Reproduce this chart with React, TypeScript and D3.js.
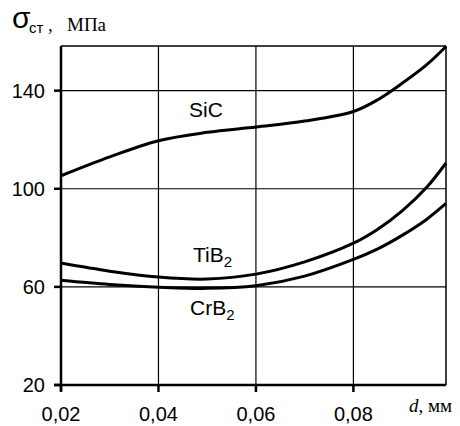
import React from "react";
import * as d3 from "d3";

const W = 460;
const H = 426;
const left = 61;
const right = 446;
const top = 46;
const bottom = 385;

const xTicks = [0.02, 0.04, 0.06, 0.08];
const yTicks = [20, 60, 100, 140];
const dValues = [0.02, 0.03, 0.04, 0.05, 0.06, 0.07, 0.08, 0.085, 0.09, 0.095, 0.099];
const sicValues = [105.3, 113, 119.6, 123, 125.2, 127.6, 131.5, 136.3, 143, 150.5, 158];
const tib2Values = [69.7, 66.4, 64, 63.2, 65.2, 70.2, 77.8, 83.5, 91, 100.5, 110.5];
const crb2Values = [62.7, 61, 59.9, 59.4, 60.5, 64.4, 71.2, 75.5, 81, 87.5, 94];

const series = [
  { name: "SiC", values: sicValues },
  { name: "TiB2", values: tib2Values },
  { name: "CrB2", values: crb2Values },
];

const App = () => {
  const x = d3.scaleLinear().domain([0.02, 0.099]).range([left, right]);
  const y = d3.scaleLinear().domain([20, 158.2]).range([bottom, top]);
  const line = d3
    .line<number>()
    .x((_, i) => x(dValues[i]))
    .y((v) => y(v))
    .curve(d3.curveCatmullRom.alpha(0.5));
  const fmt = (v: number) => v.toFixed(2).replace(".", ",");

  return (
    <svg
      width={W}
      height={H}
      style={{ position: "absolute", left: 0, top: 0, background: "#fff" }}
    >
      {/* grid */}
      {xTicks.slice(1).map((t) => (
        <line key={t} x1={x(t)} x2={x(t)} y1={top} y2={bottom} stroke="#000" strokeWidth={1.2} />
      ))}
      {yTicks.slice(1).map((t) => (
        <line key={t} x1={left} x2={right} y1={y(t)} y2={y(t)} stroke="#000" strokeWidth={1.2} />
      ))}
      <line x1={left} x2={right} y1={top} y2={top} stroke="#000" strokeWidth={1.5} />
      <line x1={right} x2={right} y1={top} y2={bottom} stroke="#000" strokeWidth={1.5} />

      {/* axes */}
      <line x1={left} x2={left} y1={top} y2={bottom + 6} stroke="#000" strokeWidth={2.5} />
      <line x1={left - 7} x2={right} y1={bottom} y2={bottom} stroke="#000" strokeWidth={2.5} />
      {yTicks.map((t) => (
        <g key={t}>
          <line x1={left - 7} x2={left} y1={y(t)} y2={y(t)} stroke="#000" strokeWidth={2.5} />
          <text
            x={left - 16}
            y={y(t) + 7}
            textAnchor="end"
            fontFamily="Liberation Sans, Arial, sans-serif"
            fontSize={20}
          >
            {t}
          </text>
        </g>
      ))}
      {xTicks.map((t) => (
        <g key={t}>
          <line x1={x(t)} x2={x(t)} y1={bottom} y2={bottom + 7} stroke="#000" strokeWidth={2.5} />
          <text
            x={x(t)}
            y={421}
            textAnchor="middle"
            fontFamily="Liberation Sans, Arial, sans-serif"
            fontSize={20}
          >
            {fmt(t)}
          </text>
        </g>
      ))}

      {/* curves */}
      {series.map((s) => (
        <path key={s.name} d={line(s.values) || ""} fill="none" stroke="#000" strokeWidth={3} />
      ))}

      {/* labels */}
      <g fontFamily="Liberation Sans, Arial, sans-serif" fontSize={21}>
        <text x={189} y={117}>SiC</text>
        <text x={193} y={262}>
          TiB<tspan fontSize={15} dy={5}>2</tspan>
        </text>
        <text x={190} y={315}>
          CrB<tspan fontSize={15} dy={5}>2</tspan>
        </text>
      </g>

      {/* axis titles */}
      <text x={12} y={28} fontFamily="Liberation Sans, Arial, sans-serif" fontSize={30}>
        σ
      </text>
      <text x={29} y={33} fontFamily="Liberation Sans, Arial, sans-serif" fontSize={15}>
        ст
      </text>
      <text x={48} y={31} fontFamily="Liberation Serif, Times New Roman, serif" fontSize={19}>
        ,
      </text>
      <text x={67} y={31} fontFamily="Liberation Serif, Times New Roman, serif" fontSize={19}>
        МПа
      </text>
      <text x={409} y={412} fontFamily="Liberation Serif, Times New Roman, serif" fontSize={19}>
        <tspan fontStyle="italic">d</tspan>, мм
      </text>
    </svg>
  );
};

export default App;
